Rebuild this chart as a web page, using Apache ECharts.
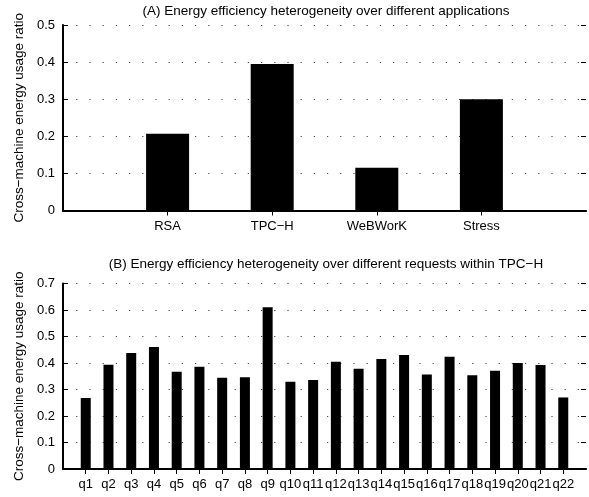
<!DOCTYPE html>
<html><head><meta charset="utf-8">
<script src="https://cdn.jsdelivr.net/npm/echarts@6/dist/echarts.min.js"></script>
<style>html,body{margin:0;padding:0;background:#fff}#c{width:589px;height:497px}</style>
</head><body><div id="c"></div>
<script>
const appCategories = ['RSA', 'TPC\u2212H', 'WeBWorK', 'Stress'];
const appValues = [0.207, 0.395, 0.115, 0.300];
const queryCategories = ['q1','q2','q3','q4','q5','q6','q7','q8','q9','q10','q11','q12','q13','q14','q15','q16','q17','q18','q19','q20','q21','q22'];
const queryValues = [0.268, 0.393, 0.438, 0.460, 0.367, 0.386, 0.344, 0.346, 0.610, 0.329, 0.336, 0.405, 0.378, 0.415, 0.430, 0.357, 0.424, 0.354, 0.371, 0.400, 0.392, 0.270];
const appYMax = 0.5;
const queryYMax = 0.7;
const yStep = 0.1;
const titleA = '(A) Energy efficiency heterogeneity over different applications';
const titleB = '(B) Energy efficiency heterogeneity over different requests within TPC\u2212H';
const yName = 'Cross\u2212machine energy usage ratio';

const FONT = '"Liberation Sans", Arial, Helvetica, sans-serif';
const pad = arr => [''].concat(arr, ['']);
const padV = arr => ['-'].concat(arr, ['-']);

function xAxes(gi, cats) {
  const last = cats.length + 1;
  const inner = (idx) => idx > 0 && idx < last;
  return [
    { gridIndex: gi, type: 'category', data: pad(cats), boundaryGap: false, position: 'bottom',
      axisLine: { lineStyle: { color: '#000', width: 2 } },
      axisTick: { inside: true, length: 5, lineStyle: { color: '#000' }, interval: inner },
      axisLabel: { interval: 0, color: '#000', fontSize: 13, fontFamily: FONT, margin: 9 },
      splitLine: { show: false } },
    { gridIndex: gi, type: 'category', data: pad(cats), boundaryGap: false, position: 'top',
      axisLine: { lineStyle: { color: '#000', width: 1.5 } },
      axisTick: { inside: true, length: 5, lineStyle: { color: '#000' }, interval: inner },
      axisLabel: { show: false }, splitLine: { show: false } }
  ];
}
function yAxes(gi, max) {
  return [
    { gridIndex: gi, type: 'value', min: 0, max: max, interval: yStep, position: 'left',
      axisLine: { show: true, lineStyle: { color: '#000', width: 2 } },
      axisTick: { show: true, inside: true, length: 5, lineStyle: { color: '#000' } },
      axisLabel: { color: '#000', fontSize: 13, fontFamily: FONT, margin: 8,
        formatter: v => v === 0 ? '0' : v.toFixed(1) },
      splitLine: { show: true, lineStyle: { color: '#444', width: 1, type: [1.2, 12] } },
      name: yName, nameLocation: 'middle', nameGap: 37,
      nameTextStyle: { color: '#000', fontSize: 13.5, fontFamily: FONT } },
    { gridIndex: gi, type: 'value', min: 0, max: max, interval: yStep, position: 'right',
      axisLine: { show: false },
      axisTick: { show: true, inside: true, length: 5, lineStyle: { color: '#000' } },
      axisLabel: { show: false }, splitLine: { show: false } }
  ];
}

const chart = echarts.init(document.getElementById('c'), null, { renderer: 'canvas' });
chart.setOption({
  animation: false,
  backgroundColor: '#fff',
  title: [
    { text: titleA, left: 326, top: 4, textAlign: 'center', padding: 0,
      textStyle: { fontSize: 13.5, fontWeight: 'normal', color: '#000', fontFamily: FONT } },
    { text: titleB, left: 326, top: 257, textAlign: 'center', padding: 0,
      textStyle: { fontSize: 13.5, fontWeight: 'normal', color: '#000', fontFamily: FONT } }
  ],
  grid: [
    { left: 63, right: 0, top: 25, bottom: 286.5 },
    { left: 63, right: 0, top: 283.5, bottom: 28 }
  ],
  xAxis: xAxes(0, appCategories).concat(xAxes(1, queryCategories)),
  yAxis: yAxes(0, appYMax).concat(yAxes(1, queryYMax)),
  series: [
    { type: 'bar', xAxisIndex: 0, yAxisIndex: 0, data: padV(appValues), barWidth: 43,
      itemStyle: { color: '#000' } },
    { type: 'bar', xAxisIndex: 2, yAxisIndex: 2, data: padV(queryValues), barWidth: 10,
      itemStyle: { color: '#000' } }
  ]
});
</script></body></html>
